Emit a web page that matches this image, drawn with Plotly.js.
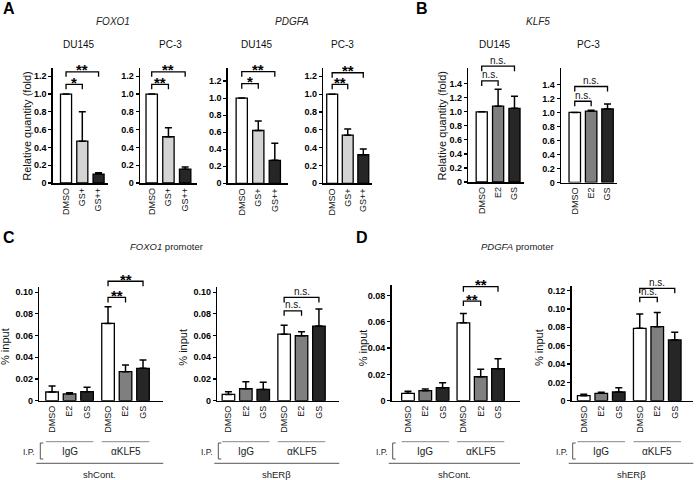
<!DOCTYPE html>
<html><head><meta charset="utf-8">
<script src="https://cdn.plot.ly/plotly-3.0.1.min.js"></script>
<style>body{margin:0;background:#fff}</style>
</head><body><div id="chart" style="width:696px;height:480px"></div>
<script>
// ---------------- DATA ----------------
const qpcrCats = ["DMSO", "GS+", "GS++"];
const foxo1_DU145 = [1.0, 0.47, 0.10];
const foxo1_DU145_err = [0, 0.33, 0.015];
const foxo1_PC3 = [1.0, 0.52, 0.155];
const foxo1_PC3_err = [0, 0.10, 0.025];
const pdgfa_DU145 = [1.0, 0.62, 0.27];
const pdgfa_DU145_err = [0, 0.11, 0.20];
const pdgfa_PC3 = [1.0, 0.54, 0.32];
const pdgfa_PC3_err = [0, 0.07, 0.065];

const klf5Cats = ["DMSO", "E2", "GS"];
const klf5_DU145 = [1.0, 1.08, 1.05];
const klf5_DU145_err = [0, 0.24, 0.17];
const klf5_PC3 = [1.0, 1.02, 1.05];
const klf5_PC3_err = [0, 0.01, 0.07];

const chipCats = ["DMSO", "E2", "GS", "DMSO", "E2", "GS"];
const chipGroups = ["IgG", "αKLF5"];
const foxo1_shCont = [0.008, 0.0062, 0.0083, 0.0712, 0.0267, 0.0298];
const foxo1_shCont_err = [0.0055, 0.0012, 0.004, 0.0153, 0.0061, 0.0076];
const foxo1_shERb = [0.0058, 0.011, 0.0104, 0.0613, 0.0598, 0.0687];
const foxo1_shERb_err = [0.0025, 0.0065, 0.0065, 0.0083, 0.0037, 0.0157];
const pdgfa_shCont = [0.0056, 0.0076, 0.0099, 0.0592, 0.0182, 0.0243];
const pdgfa_shCont_err = [0.0015, 0.0013, 0.0038, 0.0071, 0.0056, 0.0076];
const pdgfa_shERb = [0.0055, 0.008, 0.0095, 0.0789, 0.0807, 0.0662];
const pdgfa_shERb_err = [0.0014, 0.0011, 0.0047, 0.0156, 0.0153, 0.0083];

const yTicksA = [0, 0.2, 0.4, 0.6, 0.8, 1.0, 1.2];
const yTextA = ["0", "0.2", "0.4", "0.6", "0.8", "1.0", "1.2"];
const yTicksB = [0, 0.2, 0.4, 0.6, 0.8, 1.0, 1.2, 1.4];
const yTextB = ["0", "0.2", "0.4", "0.6", "0.8", "1.0", "1.2", "1.4"];
const yTicksC = [0, 0.02, 0.04, 0.06, 0.08, 0.10];
const yTextC = ["0", "0.02", "0.04", "0.06", "0.08", "0.10"];
const yTicksD1 = [0, 0.02, 0.04, 0.06, 0.08];
const yTextD1 = ["0", "0.02", "0.04", "0.06", "0.08"];
const yTicksD2 = [0, 0.02, 0.04, 0.06, 0.08, 0.10, 0.12];
const yTextD2 = ["0", "0.02", "0.04", "0.06", "0.08", "0.10", "0.12"];

// significance comparisons: [from index, to index, bracket level, label]
const sigA1 = [[0, 1, 1.11, "*"], [0, 2, 1.25, "**"]];
const sigA2 = [[0, 1, 1.11, "**"], [0, 2, 1.25, "**"]];
const sigA3 = [[0, 1, 1.17, "*"], [0, 2, 1.31, "**"]];
const sigA4 = [[0, 1, 1.11, "**"], [0, 2, 1.24, "**"]];
const sigB1 = [[0, 1, 1.44, "n.s."], [0, 2, 1.65, "n.s."]];
const sigB2 = [[0, 1, 1.16, "n.s."], [0, 2, 1.37, "n.s."]];
const sigC1 = [[3, 4, 0.0951, "**"], [3, 5, 0.110, "**"]];
const sigC2 = [[3, 4, 0.0828, "n.s."], [3, 5, 0.0951, "n.s."]];
const sigD1 = [[3, 4, 0.0757, "**"], [3, 5, 0.0866, "**"]];
const sigD2 = [[3, 4, 0.1127, "n.s."], [3, 5, 0.1225, "n.s."]];

// ---------------- STYLE / LAYOUT ----------------
const W = 696, H = 480;
const FONT = "Arial, 'Liberation Sans', sans-serif";
const colA = ["#ffffff", "#d4d4d4", "#262626"];
const colB = ["#ffffff", "#7f7f7f", "#262626"];
const colC = colB.concat(colB);
const chipPos = chipCats.map((c, i) => i < 3 ? i : i + 0.2);
const qPos = [0, 1, 2];

const panels = [
  {box: {l: 52.7, r: 108, t: 68.3, b: 183}, xr: [-0.82, 2.58], yr: [0, 1.29], cats: qpcrCats, pos: qPos, y: foxo1_DU145, e: foxo1_DU145_err, col: colA, tv: yTicksA, tt: yTextA, sig: sigA1, w: 0.68},
  {box: {l: 140, r: 196.7, t: 68.3, b: 183}, xr: [-0.70, 2.69], yr: [0, 1.29], cats: qpcrCats, pos: qPos, y: foxo1_PC3, e: foxo1_PC3_err, col: colA, tv: yTicksA, tt: yTextA, sig: sigA2, w: 0.68},
  {box: {l: 227.7, r: 287.7, t: 68.3, b: 183.3}, xr: [-0.85, 2.78], yr: [0, 1.35], cats: qpcrCats, pos: qPos, y: pdgfa_DU145, e: pdgfa_DU145_err, col: colA, tv: yTicksA, tt: yTextA, sig: sigA3, w: 0.68},
  {box: {l: 323.3, r: 371.7, t: 68.3, b: 183.3}, xr: [-0.57, 2.54], yr: [0, 1.29], cats: qpcrCats, pos: qPos, y: pdgfa_PC3, e: pdgfa_PC3_err, col: colA, tv: yTicksA, tt: yTextA, sig: sigA4, w: 0.70},
  {box: {l: 468.3, r: 524.3, t: 68.3, b: 182}, xr: [-0.82, 2.6], yr: [0, 1.62], cats: klf5Cats, pos: qPos, y: klf5_DU145, e: klf5_DU145_err, col: colB, tv: yTicksB, tt: yTextB, sig: sigB1, w: 0.68},
  {box: {l: 561, r: 616.7, t: 68.3, b: 182.5}, xr: [-0.84, 2.56], yr: [0, 1.63], cats: klf5Cats, pos: qPos, y: klf5_PC3, e: klf5_PC3_err, col: colB, tv: yTicksB, tt: yTextB, sig: sigB2, w: 0.70},
  {box: {l: 39.3, r: 163.3, t: 286.7, b: 400.7}, xr: [-0.73, 6.36], yr: [0, 0.105], cats: chipCats, pos: chipPos, y: foxo1_shCont, e: foxo1_shCont_err, col: colC, tv: yTicksC, tt: yTextC, sig: sigC1, w: 0.72, grp: "shCont."},
  {box: {l: 217.3, r: 339.3, t: 286.7, b: 400.7}, xr: [-0.64, 6.37], yr: [0, 0.105], cats: chipCats, pos: chipPos, y: foxo1_shERb, e: foxo1_shERb_err, col: colC, tv: yTicksC, tt: yTextC, sig: sigC2, w: 0.72, grp: "shERβ"},
  {box: {l: 391.7, r: 520, t: 285, b: 400.7}, xr: [-0.94, 6.47], yr: [0, 0.0879], cats: chipCats, pos: chipPos, y: pdgfa_shCont, e: pdgfa_shCont_err, col: colC, tv: yTicksD1, tt: yTextD1, sig: sigD1, w: 0.73, grp: "shCont."},
  {box: {l: 571.7, r: 693.3, t: 286, b: 400.7}, xr: [-0.69, 6.26], yr: [0, 0.125], cats: chipCats, pos: chipPos, y: pdgfa_shERb, e: pdgfa_shERb_err, col: colC, tv: yTicksD2, tt: yTextD2, sig: sigD2, w: 0.72, grp: "shERβ"}
];

const px = v => v / W;
const py = v => 1 - v / H;

const traces = [];
const layout = {
  width: W, height: H, margin: {l: 0, r: 0, t: 0, b: 0},
  showlegend: false, paper_bgcolor: "#fff", plot_bgcolor: "rgba(0,0,0,0)",
  font: {family: FONT, color: "#000", size: 10},
  shapes: [], annotations: []
};

function ann(text, x, y, opts) {
  layout.annotations.push(Object.assign({
    text: text, x: px(x), y: py(y), xref: "paper", yref: "paper",
    showarrow: false, xanchor: "center", yanchor: "middle",
    font: {family: FONT, size: 10, color: "#000"}
  }, opts || {}));
}
function line(x0, y0, x1, y1, color, width) {
  layout.shapes.push({type: "line", xref: "paper", yref: "paper",
    x0: px(x0), y0: py(y0), x1: px(x1), y1: py(y1),
    line: {color: color, width: width}});
}

panels.forEach((p, i) => {
  const k = i + 1, s = k === 1 ? "" : String(k);
  const B = p.box;
  const X = x => B.l + (x - p.xr[0]) / (p.xr[1] - p.xr[0]) * (B.r - B.l);
  const Y = y => B.b - (y - p.yr[0]) / (p.yr[1] - p.yr[0]) * (B.b - B.t);
  traces.push({
    type: "bar", x: p.pos, y: p.y, xaxis: "x" + s, yaxis: "y" + s, width: p.w,
    marker: {color: p.col, line: {color: "#000", width: 1.3}},
    error_y: {type: "data", symmetric: false, array: p.e, arrayminus: p.e.map(() => 0),
      color: "#000", thickness: 1.5, width: 3.5, visible: true},
    hoverinfo: "skip"
  });
  layout["xaxis" + s] = {
    domain: [px(B.l), px(B.r)], range: p.xr, anchor: "y" + s,
    showline: true, linewidth: 1.5, linecolor: "#000", ticks: "",
    tickmode: "array", tickvals: p.pos, ticktext: p.cats, tickangle: -90,
    tickfont: {family: FONT, size: 9, color: "#111"},
    showgrid: false, zeroline: false, fixedrange: true
  };
  layout["yaxis" + s] = {
    domain: [py(B.b), py(B.t)], range: p.yr, anchor: "x" + s,
    showline: true, linewidth: 1.5, linecolor: "#000",
    ticks: "outside", ticklen: 3, tickwidth: 1.2, tickcolor: "#000",
    tickmode: "array", tickvals: p.tv, ticktext: p.tt,
    tickfont: {family: FONT, size: 9, color: "#000", weight: "bold"},
    showgrid: false, zeroline: false, fixedrange: true
  };
  // significance brackets
  p.sig.forEach(sg => {
    const x0 = X(p.pos[sg[0]]), x1 = X(p.pos[sg[1]]), yt = Y(sg[2]);
    layout.shapes.push({type: "path", xref: "paper", yref: "paper",
      path: `M${px(x0)},${py(yt + 5)} L${px(x0)},${py(yt)} L${px(x1)},${py(yt)} L${px(x1)},${py(yt + 5)}`,
      line: {color: "#000", width: 1.3}});
    if (sg[3] === "n.s.") {
      ann("n.s.", (x0 + x1) / 2, yt - 6, {font: {family: FONT, size: 10, color: "#111"}});
    } else {
      ann(sg[3], (x0 + x1) / 2, yt - 2, {font: {family: FONT, size: 15, color: "#000", weight: "bold"}});
    }
  });
  // ChIP group labels
  if (p.grp) {
    const hw = p.w / 2;
    const g = [[X(p.pos[0] - hw), X(p.pos[2] + hw)], [X(p.pos[3] - hw), X(p.pos[5] + hw)]];
    g.forEach((seg, j) => {
      line(seg[0], 441.7, seg[1], 441.7, "#888", 1);
      ann(chipGroups[j], (seg[0] + seg[1]) / 2, 451, {font: {family: FONT, size: 10, color: "#222"}});
    });
    const bx = B.l + 1;
    layout.shapes.push({type: "path", xref: "paper", yref: "paper",
      path: `M${px(bx + 3)},${py(443)} L${px(bx)},${py(443)} L${px(bx)},${py(459)} L${px(bx + 3)},${py(459)}`,
      line: {color: "#555", width: 1}});
    ann("I.P.", bx - 3, 451.5, {xanchor: "right", font: {family: FONT, size: 8.5, color: "#222"}});
    line(B.l - 3, 463.3, B.r, 463.3, "#555", 1);
    ann(p.grp, (B.l - 3 + B.r) / 2, 474, {font: {family: FONT, size: 9.5, color: "#222"}});
  }
});

// panel letters and titles
const bold16 = {font: {family: FONT, size: 16, color: "#000", weight: "bold"}, xanchor: "left"};
ann("A", 1, 8, bold16);
ann("B", 414, 8, bold16);
ann("C", 1, 237, bold16);
ann("D", 354, 237, bold16);

const it10 = {font: {family: FONT, size: 10, color: "#222", style: "italic"}};
ann("FOXO1", 113, 22, it10);
ann("PDGFA", 291.7, 22, it10);
ann("KLF5", 538.3, 22, it10);
const sub10 = {font: {family: FONT, size: 10, color: "#111"}};
ann("DU145", 79, 44.3, sub10);
ann("PC-3", 170, 44.3, sub10);
ann("DU145", 256.7, 44.3, sub10);
ann("PC-3", 342.7, 44.3, sub10);
ann("DU145", 495, 44.3, sub10);
ann("PC-3", 588.3, 44.3, sub10);

const ytl = {textangle: -90, font: {family: FONT, size: 11, color: "#111"}};
ann("Relative quantity (fold)", 26.7, 126, ytl);
ann("Relative quantity (fold)", 441.5, 126, ytl);
ann("% input", 5, 347, ytl);
ann("% input", 182.7, 347, ytl);
ann("% input", 363.3, 348, ytl);
ann("% input", 539, 348, ytl);

ann("<i>FOXO1</i> promoter", 166, 246.7, {font: {family: FONT, size: 9.5, color: "#222"}});
ann("<i>PDGFA</i> promoter", 517.5, 246.7, {font: {family: FONT, size: 9.5, color: "#222"}});

Plotly.newPlot("chart", traces, layout, {staticPlot: true, displayModeBar: false});
</script>
</body></html>
